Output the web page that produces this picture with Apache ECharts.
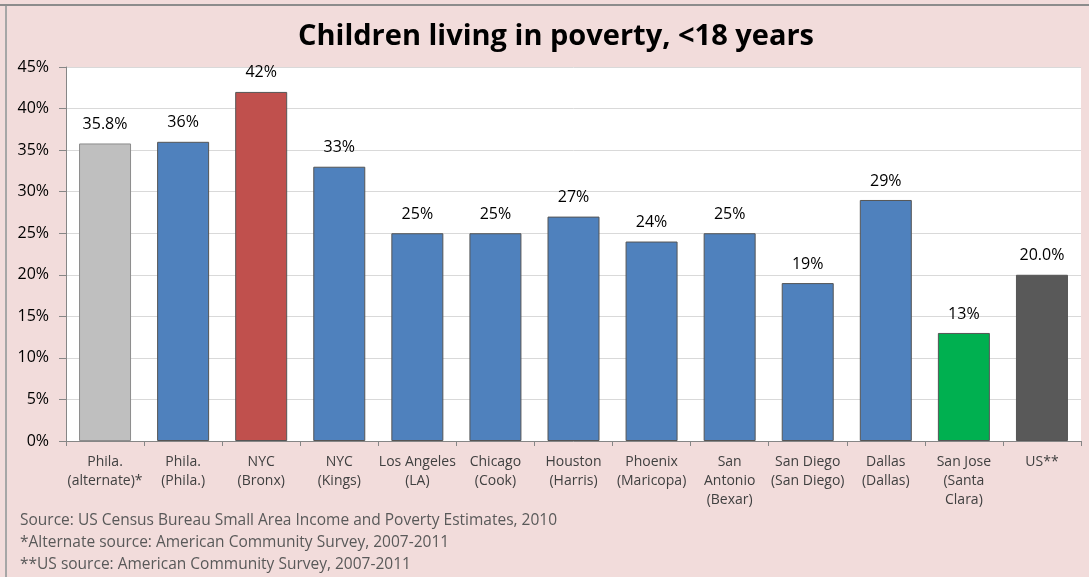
<!DOCTYPE html>
<html>
<head>
<meta charset="utf-8">
<script src="https://cdn.jsdelivr.net/npm/echarts@6/dist/echarts.min.js"></script>
<style>
  html, body { margin: 0; padding: 0; background: #F2DCDB; }
  #chart { width: 1089px; height: 577px; }
</style>
</head>
<body>
<div id="chart"></div>
<script>
// Child poverty rate (<18 years) by city / county
const categories = [
  'Phila.\n(alternate)*', 'Phila.\n(Phila.)', 'NYC\n(Bronx)', 'NYC\n(Kings)',
  'Los Angeles\n(LA)', 'Chicago\n(Cook)', 'Houston\n(Harris)', 'Phoenix\n(Maricopa)',
  'San\nAntonio\n(Bexar)', 'San Diego\n(San Diego)', 'Dallas\n(Dallas)',
  'San Jose\n(Santa\nClara)', 'US**'
];
const values = [35.8, 36, 42, 33, 25, 25, 27, 24, 25, 19, 29, 13, 20.0];
const valueLabels = ['35.8%', '36%', '42%', '33%', '25%', '25%', '27%', '24%', '25%', '19%', '29%', '13%', '20.0%'];
const barColors = ['#BFBFBF', '#4F81BD', '#C0504D', '#4F81BD', '#4F81BD', '#4F81BD', '#4F81BD',
  '#4F81BD', '#4F81BD', '#4F81BD', '#4F81BD', '#00B050', '#595959'];
const yTicks = [0, 5, 10, 15, 20, 25, 30, 35, 40, 45];
const footnotes = [
  'Source: US Census Bureau Small Area Income and Poverty Estimates, 2010',
  '*Alternate source: American Community Survey, 2007-2011',
  '**US source: American Community Survey, 2007-2011'
];

const FONT = '"Open Sans", "Noto Sans", sans-serif';
const chart = echarts.init(document.getElementById('chart'), null, { renderer: 'canvas' });

chart.setOption({
  backgroundColor: '#F2DCDB',
  animation: false,
  title: {
    text: 'Children living in poverty, <18 years',
    left: 551, top: 17, textAlign: 'center',
    textStyle: { fontFamily: FONT, fontWeight: 'bold', fontSize: 29, color: '#000' }
  },
  grid: { left: 66, right: 8, top: 67, bottom: 136, backgroundColor: '#fff', show: true, borderWidth: 0 },
  xAxis: {
    type: 'category',
    data: categories,
    axisLine: { lineStyle: { color: '#868686' } },
    axisTick: { show: true, alignWithLabel: false, length: 5, lineStyle: { color: '#868686' } },
    axisLabel: { interval: 0, fontFamily: FONT, fontSize: 14, color: '#404040', lineHeight: 19, margin: 12 }
  },
  yAxis: {
    type: 'value',
    min: yTicks[0], max: yTicks[yTicks.length - 1], interval: 5,
    axisLine: { show: true, lineStyle: { color: '#868686' } },
    axisTick: { show: true, length: 7, lineStyle: { color: '#868686' } },
    splitLine: { lineStyle: { color: '#D9D9D9' } },
    axisLabel: { fontFamily: FONT, fontSize: 16, color: '#000', margin: 17, formatter: v => v + '%' }
  },
  series: [{
    type: 'bar',
    barWidth: 52,
    data: values.map((v, i) => ({
      value: v,
      itemStyle: { color: barColors[i], borderColor: i === 0 ? '#8C8C8C' : '#555', borderWidth: 1 },
      label: { formatter: valueLabels[i] }
    })),
    label: { show: true, position: 'top', distance: 11, fontFamily: FONT, fontSize: 16, color: '#000' }
  }],
  graphic: [
    { type: 'rect', shape: { x: 0, y: 4, width: 1089, height: 2 }, style: { fill: '#8C8C8C' } },
    { type: 'rect', shape: { x: 5, y: 6, width: 2, height: 571 }, style: { fill: '#A6A6A6' } },
    ...footnotes.map((t, i) => ({
      type: 'text', left: 20, top: 513 + i * 22,
      style: { text: t, fontFamily: FONT, fontSize: 15.5, fill: '#595959' }
    }))
  ]
});
</script>
</body>
</html>
